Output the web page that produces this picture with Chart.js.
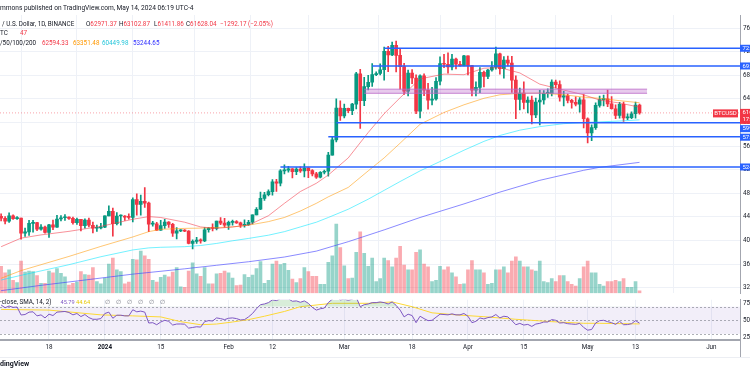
<!DOCTYPE html>
<html><head><meta charset="utf-8">
<script src="https://cdn.jsdelivr.net/npm/chart.js@4.4.1/dist/chart.umd.min.js"></script>
<style>
html,body{margin:0;padding:0;background:#fff;}
body{width:750px;height:375px;overflow:hidden;position:relative;font-family:Roboto,"Liberation Sans",sans-serif;color:#131722;}
canvas{position:absolute;left:0;}
#cMain{top:0;}
#cRsi{top:293px;}
.t{position:absolute;white-space:nowrap;font-size:6.3px;line-height:8px;}
.r{color:#F23645}
.ln{position:absolute;}
</style></head><body>
<canvas id="cMain" width="750" height="300"></canvas>
<canvas id="cRsi" width="750" height="64"></canvas>

<div class="t" style="left:0;top:4px;font-size:6.6px">mmons published on TradingView.com, May 14, 2024 06:19 UTC-4</div>
<div class="t" style="left:2px;top:19.5px">/ U.S. Dollar, 1D, BINANCE</div>
<div class="t" style="left:86px;top:19.5px">O<span class="r">62971.37</span></div>
<div class="t" style="left:119px;top:19.5px">H<span class="r">63102.87</span></div>
<div class="t" style="left:154px;top:19.5px">L<span class="r">61411.86</span></div>
<div class="t" style="left:186px;top:19.5px">C<span class="r">61628.04</span></div>
<div class="t r" style="left:220px;top:19.5px">−1292.17 (−2.05%)</div>
<div class="t" style="left:0;top:29px">TC</div>
<div class="t r" style="left:20px;top:29px">47</div>
<div class="t" style="left:0;top:38.7px">/50/100/200</div>
<div class="t" style="left:42px;top:38.7px;color:#F23645">62594.33</div>
<div class="t" style="left:73px;top:38.7px;color:#FF9800">63351.48</div>
<div class="t" style="left:102px;top:38.7px;color:#26C6DA">60449.98</div>
<div class="t" style="left:133px;top:38.7px;color:#3030FF">53244.65</div>

<div class="t" style="left:0;top:297.5px">-close, SMA, 14, 2)</div>
<div class="t" style="left:60.5px;top:297.5px;color:#7E57C2;font-size:5.6px">45.79</div>
<div class="t" style="left:76px;top:297.5px;color:#E6C800;font-size:5.6px">44.64</div>
<div class="t" style="left:105px;top:297.5px;color:#787b86">∅</div>
<div class="t" style="left:116px;top:297.5px;color:#787b86">∅</div>
<div class="t" style="left:127px;top:297.5px;color:#787b86">∅</div>
<div class="t" style="left:138px;top:297.5px;color:#787b86">∅</div>
<div class="t" style="left:149px;top:297.5px;color:#787b86">∅</div>
<div class="t" style="left:160px;top:297.5px;color:#787b86">∅</div>

<div class="t" style="left:0;top:360px;font-size:7px;font-weight:bold">dingView</div>
<div class="ln" style="left:740px;top:340px;width:1px;height:17px;background:#a3a6af"></div>
<div class="ln" style="left:0;top:357px;width:750px;height:1px;background:#eceef3"></div>

<script>
// ---- DATA ----
const startDate = '2023-12-06'; // candle i = startDate + i days
const open = [44080,43770,43290,44170,43720,43790,41240,41450,42900,43020,
41940,42260,41370,42660,42270,43650,43860,43990,43740,43020,
43580,42520,43440,42580,42070,42140,42280,44180,44950,42850,
44150,44160,43970,43930,46950,46110,46630,46340,42780,42840,
41730,42510,43140,42740,41260,41620,41660,41580,39510,39850,
40080,39930,41820,42120,42030,43300,42950,42580,43080,43190,
42990,42580,42700,43090,44340,45290,47130,47750,48290,49960,
49700,51800,51910,52130,51660,52120,51780,52260,51850,51300,
50730,51570,51730,54480,57050,62430,61130,62390,61990,63110,
68250,63720,66070,66820,68120,68310,68940,72080,71440,73080,
71380,69480,65290,68390,67550,61910,67910,65490,63780,63980,
66990,69980,69870,69440,70750,69870,69640,71280,69640,65460,
65950,68490,67820,68900,69360,71620,69140,70590,70060,67190,
63920,64980,63410,63790,61290,63470,63810,64940,64940,66840,
66410,64290,64500,63760,63420,63110,63840,60640,58250,59120,
62890,63890,64030,63160,62330,61190,63070,60790,60820,61480,
62971];
const high = [44500,44050,44700,44370,44040,43800,42100,43430,43400,43090,
42700,42430,42750,43480,44280,44240,44400,44020,43950,43810,
43600,43690,43800,43120,42600,42900,44180,45880,45500,44730,
44340,44230,44500,47250,47890,47700,48970,46500,43260,43070,
43400,43580,43200,42930,42200,41870,41870,41690,40130,40550,
40300,42200,42200,42840,43300,43880,43750,43290,43480,43380,
43120,43490,43400,44370,45600,48200,48170,48590,50330,50370,
52040,52820,52570,52200,52370,52480,52980,52370,52030,51550,
51680,51950,54940,57580,64000,63680,63110,62430,63230,68500,
69000,67640,67990,69980,68590,69940,72800,72900,73650,73780,
72420,70040,68900,68960,68100,68100,68230,66650,65980,67620,
71150,71560,71800,71540,70920,70360,71370,71290,69690,66900,
69290,68720,69000,70330,72800,71760,71170,71260,71230,67930,
65840,66900,64360,64490,64130,65450,65420,65700,67230,67200,
67070,65300,64800,63920,64370,64230,64730,60780,59600,63320,
64490,64650,65500,64400,62990,63420,63470,61490,61820,63450,
63103];
const low = [43330,42820,43080,43580,43560,40220,40680,40870,41420,41660,
41730,41250,40530,41820,42220,43300,43400,43580,42760,42720,
41640,42100,42310,41300,41520,41970,42170,44150,40750,42630,
42600,43400,43620,43170,44300,44300,45600,41500,42440,41720,
41720,42050,42200,40680,40280,41500,41500,39430,38560,39490,
39550,39820,41400,41620,41800,42680,42280,41880,42580,42880,
42220,42260,42570,42790,44330,45240,46800,47560,47700,48300,
49260,51300,51600,50620,51160,51520,50770,50630,50930,50520,
50590,51280,50900,54450,56690,60360,60770,61660,61320,62300,
59010,62850,65540,66120,67950,68080,67190,68620,71330,68560,
65630,64780,64500,66600,61500,60760,64530,62260,63000,63800,
66390,69280,68360,68920,69080,69560,69570,68060,64500,64490,
65060,66010,67440,68700,69040,68210,67520,69570,65090,60660,
62130,62300,61630,59770,60800,59600,63110,64250,64500,65860,
63600,62790,63300,62420,62800,61770,59100,56550,56940,58810,
62580,62820,62700,62280,60630,60750,60190,60490,60630,60750,
61412];
const close = [43770,43290,44170,43720,43790,41240,41450,42900,43020,41940,
42260,41370,42660,42270,43650,43860,43990,43740,43020,43580,
42520,43440,42580,42070,42140,42280,44180,44950,42850,44150,
44160,43970,43930,46950,46110,46630,46340,42780,42840,41730,
42510,43140,42740,41260,41620,41660,41580,39510,39850,40080,
39930,41820,42120,42030,43300,42950,42580,43080,43190,42990,
42580,42700,43090,44340,45290,47130,47750,48290,49960,49700,
51800,51910,52130,51660,52120,51780,52260,51850,51300,50730,
51570,51730,54480,57050,62430,61130,62390,61990,63110,68250,
63720,66070,66820,68120,68310,68940,72080,71440,73080,71380,
69480,65290,68390,67550,61910,67910,65490,63780,63980,66990,
69980,69870,69440,70750,69870,69640,71280,69640,65460,65950,
68490,67820,68900,69360,71620,69140,70590,70060,67190,63920,
64980,63410,63790,61290,63470,63810,64940,64940,66840,66410,
64290,64500,63760,63420,63110,63840,60640,58250,59120,62890,
63890,64030,63160,62330,61190,63070,60790,60820,61480,62970,
61628];
// volume, thousand BTC
const volume = [46,35,40,22,18,55,36,38,37,30,
17,17,38,35,42,34,28,14,17,19,
37,32,31,44,20,16,26,50,60,40,
37,16,19,58,57,72,64,58,22,19,
27,31,28,36,44,11,10,38,52,33,
29,44,16,16,33,34,38,35,26,13,
14,32,27,31,42,54,17,22,50,55,
49,51,39,24,18,25,44,37,29,29,
15,15,53,64,118,78,47,25,26,70,
105,68,46,60,20,25,60,56,45,60,
80,48,40,40,70,74,50,45,20,22,
46,40,45,35,28,15,16,40,56,40,
40,35,15,17,40,40,45,35,55,62,
55,45,45,40,38,55,20,18,25,20,
30,30,20,15,12,25,45,55,35,35,
15,12,20,20,22,20,25,10,10,20,
4];
// moving averages at sample days
const maDays = [0,5,10,17,25,33,37,40,46,50,54,58,62,67,71,75,79,82,87,92,96,100,105,111,116,121,125,130,135,141,146,150,155,160];
const ma20  = [38950,40400,40950,41550,42400,43600,44050,43900,43100,42300,42050,42300,42600,44200,46300,48300,49700,51100,54000,58300,61500,64200,67400,68200,68100,69200,69300,68400,66500,65500,64700,63800,63300,62594];
const ma50  = [33600,34900,35900,37300,39000,40600,41500,41900,42050,42100,42200,42300,42600,43200,43900,45000,46300,47400,49000,51800,54000,56500,59700,61700,63000,64100,64700,64950,65000,64700,64300,64100,63700,63351];
const ma100 = [33300,34100,34850,35900,37250,38400,38750,38850,38950,39150,39500,39950,40350,40900,41500,42300,43100,43900,45300,47000,48500,50000,51800,53700,55300,56800,57800,58700,59300,59800,60000,60100,60250,60450];
const ma200Days = [0,10,21,33,46,54,62,71,79,87,96,105,116,125,135,146,150,160];
const ma200 = [31500,32400,33300,34300,35200,35800,36400,37200,38200,39800,41800,43900,46200,48200,50200,51900,52400,53245];
// drawn levels
const levelVals = [72580,69580,59970,57590,52460];
const levelFrom = [96,93,84,82,70];
const zoneLo = 64950, zoneHi = 65650, zoneFrom = 91, zoneTo = 161.9;
const lastPrice = 61628.04;
// RSI(14) daily, and its SMA read at sample days
const rsi = [72.5,68.5,71,69,69.5,57.8,58.5,62,62.5,56.5,
58,53.5,59,57,62,62.5,63,61.5,58,60,
55.5,58.5,54,51.5,51.5,52.5,60,62,53,57.5,
57.5,56.5,56.5,65.5,62.5,63.5,62,46,46.5,43.5,
47.5,50,48.5,43,44.5,44.6,44.3,38.5,39.5,40.5,
40,48,49.5,49,53.5,52.5,51,53,53.5,52.5,
50.5,51,55,60,67,73,74,76,80,79,
81.5,81.5,81.5,78,78.5,76.5,78.5,75,69,65,
67,68,76,81,85,80,81,79.5,81,84,
70,73,74,76,76,77,76,74,77,72,
65,55,59,57,46.5,56,52.5,49.5,50,54.5,
59,58.5,58,59.5,58,58,60,56,46.5,48.5,
53.5,52,54,55,58.5,53.5,56,55,49.5,43.5,
45.5,43,44,41,44.5,45.5,47.5,47.5,51,50,
46,46.5,45,44.5,44,45.5,39.5,35.5,36.5,46,
49.5,50,48,46.5,44,48.5,43.5,43.7,45,49.5,
45.79];
const rsiSmaDays = [0,12,25,33,40,45,50,54,58,62,66,71,75,83,92,98,103,108,114,121,129,138,146,150,160];
const rsiSma = [66,65,58,56.5,55,48,43.5,44.5,47.5,51,56,63,70,75,75,77,70,61,58,55.3,51.5,48,45.6,45.6,44.64];
// axis ticks
const tickDays = [12,26,40,57,68,86,103,117,131,147,159,178];
const tickLabels = ['18','2024','15','Feb','12','Mar','18','Apr','15','May','13','Jun'];
const priceTicks = [32000,36000,40000,44000,48000,52000,56000,60000,64000,68000,72000,76000];
const rsiTicks = [25,50,75];

// ---- CHART ----
Chart.defaults.font.family = 'Roboto, "Liberation Sans", sans-serif';
const XMIN = -0.28, XMAX = 185.18;
const UP = '#089981', DN = '#F23645';
const idx = close.map((_, i) => i);
const up = i => close[i] >= open[i];
const GRID = '#eef1f7';
const xTicksFn = s => { s.ticks = tickDays.map(v => ({value: v})); };
// page-pixel calibration of the panes
const PRICE_REF = {p:32000, y:287.7, k:0.0059};   // y = 287.7 - (p-32000)*k
const RSI_REF = {v:50, y:27.3, k:0.68};           // within RSI canvas
const VOL_K = 0.585;                               // px per thousand BTC

const lineDs = (data, color, order, extra) => Object.assign({
  type: 'line', data, borderColor: color, borderWidth: 1, pointRadius: 0,
  tension: 0, fill: false, order, yAxisID: 'y'
}, extra || {});

const datasets = [
  { type:'bar', yAxisID:'yv', order: 10, grouped:false, barThickness:3, borderWidth:0,
    data: idx.map(i => ({x:i, y:volume[i]})),
    backgroundColor: idx.map(i => up(i) ? 'rgba(8,153,129,0.42)' : 'rgba(242,54,69,0.42)') },
  { type:'bar', yAxisID:'y', order: 6, grouped:false, barThickness:1, borderWidth:0,
    data: idx.map(i => ({x:i, y:[low[i], high[i]]})),
    backgroundColor: idx.map(i => up(i) ? UP : DN) },
  { type:'bar', yAxisID:'y', order: 5, grouped:false, barThickness:3, borderWidth:0, minBarLength:1,
    data: idx.map(i => ({x:i, y:[open[i], close[i]]})),
    backgroundColor: idx.map(i => up(i) ? UP : DN) },
  lineDs(maDays.map((d,k)=>({x:d,y:ma20[k]})), 'rgba(242,54,69,0.55)', 3),
  lineDs(maDays.map((d,k)=>({x:d,y:ma50[k]})), 'rgba(255,152,0,0.55)', 3),
  lineDs(maDays.map((d,k)=>({x:d,y:ma100[k]})), 'rgba(0,229,255,0.55)', 3),
  lineDs(ma200Days.map((d,k)=>({x:d,y:ma200[k]})), 'rgba(60,60,255,0.6)', 3),
  lineDs([{x:XMIN,y:lastPrice},{x:XMAX,y:lastPrice}], 'rgba(242,54,69,0.45)', 2, {borderDash:[1,2]}),
  lineDs([{x:zoneFrom,y:zoneLo},{x:zoneTo,y:zoneLo}], 'rgba(186,104,200,0.8)', 1),
  lineDs([{x:zoneFrom,y:zoneHi},{x:zoneTo,y:zoneHi}], 'rgba(186,104,200,0.8)', 1,
    {fill:'-1', backgroundColor:'rgba(186,104,200,0.35)'}),
];
levelVals.forEach((v,k) => datasets.push(
  lineDs([{x:levelFrom[k],y:v},{x:XMAX,y:v}], '#2962FF', 1, {borderWidth:1.6})));

const labelPlugin = {
  id:'labels',
  afterDraw(chart){
    const c = chart.ctx, ys = chart.scales.y;
    c.save();
    c.font = '6px Roboto, "Liberation Sans", sans-serif';
    c.textBaseline = 'middle';
    const shift = [0,0,6,0.5,0];
    levelVals.forEach((v,k)=>{
      const y = ys.getPixelForValue(v) + shift[k];
      c.fillStyle = '#2962FF'; c.fillRect(740, y-3.5, 12, 7);
      c.fillStyle = '#fff'; c.textAlign='left'; c.fillText(v.toFixed(2), 742.5, y+0.3);
    });
    const py = ys.getPixelForValue(lastPrice);
    c.fillStyle = '#F23645'; c.fillRect(740, py-4, 12, 15);
    c.fillStyle = '#fff'; c.fillText(lastPrice.toFixed(2), 742.5, py-0.2); c.fillText('17:40:44', 742.5, py+6.6);
    c.fillStyle = '#F23645'; c.fillRect(713, py-3.5, 25, 8);
    c.fillStyle = '#fff'; c.textAlign='center'; c.fillText('BTCUSD', 725.5, py+0.6);
    c.restore();
  }
};

const main = new Chart(document.getElementById('cMain'), {
  type:'bar',
  data:{datasets},
  options:{
    animation:false, responsive:false, devicePixelRatio:1,
    layout:{autoPadding:false, padding:{top:15,left:0,right:0,bottom:0}},
    plugins:{legend:{display:false}, tooltip:{enabled:false}},
    scales:{
      x:{type:'linear', min:XMIN, max:XMAX, offset:false,
         grid:{color:GRID, drawTicks:false}, border:{display:false},
         ticks:{display:false}, afterBuildTicks:xTicksFn, afterFit:s=>{s.height=0;}},
      y:{type:'linear', position:'right', min:31102, max:78220,
         grid:{color:GRID, drawTicks:false}, border:{display:true, color:'#a3a6af'},
         ticks:{color:'#131722', font:{size:6.3}, padding:3, callback:v=>Number(v).toFixed(2)},
         afterBuildTicks:s=>{s.ticks = priceTicks.map(v=>({value:v}));}, afterFit:s=>{s.width=10;}},
      yv:{type:'linear', display:false, min:0, max:475}
    }
  },
  plugins:[labelPlugin]
});
// calibrate the value ranges to the actual plot area
(function(){
  const a = main.chartArea;
  const o = main.options.scales;
  o.y.max = PRICE_REF.p + (PRICE_REF.y - a.top) / PRICE_REF.k;
  o.y.min = PRICE_REF.p + (PRICE_REF.y - a.bottom) / PRICE_REF.k;
  o.yv.max = (a.bottom - a.top) / VOL_K;
  main.update('none');
})();

const bandPlugin = {
  id:'band',
  beforeDatasetsDraw(chart){
    const c = chart.ctx, ys = chart.scales.y, a = chart.chartArea;
    const y70 = ys.getPixelForValue(70), y30 = ys.getPixelForValue(30), y50 = ys.getPixelForValue(50);
    c.save();
    c.fillStyle = 'rgba(126,87,194,0.1)';
    c.fillRect(a.left, y70, a.right-a.left, y30-y70);
    c.strokeStyle = 'rgba(120,123,134,0.6)'; c.lineWidth = 1; c.setLineDash([2,2]);
    [y70,y50,y30].forEach(y=>{ c.beginPath(); c.moveTo(a.left, Math.round(y)+0.5); c.lineTo(a.right, Math.round(y)+0.5); c.stroke(); });
    c.restore();
  }
};

const rsiChart = new Chart(document.getElementById('cRsi'), {
  type:'line',
  data:{datasets:[
    {data: idx.map(i=>({x:i,y:rsi[i]})), borderColor:'#7E57C2', borderWidth:1, pointRadius:0, tension:0,
     fill:{target:{value:70}, above:'rgba(76,175,80,0.22)', below:'rgba(0,0,0,0)'}},
    {data: rsiSmaDays.map((d,k)=>({x:d,y:rsiSma[k]})), borderColor:'#FDD835', borderWidth:1, pointRadius:0, tension:0, fill:false}
  ]},
  options:{
    animation:false, responsive:false, devicePixelRatio:1,
    layout:{autoPadding:false, padding:0},
    plugins:{legend:{display:false}, tooltip:{enabled:false}},
    scales:{
      x:{type:'linear', min:XMIN, max:XMAX, offset:false,
         grid:{color:GRID, drawTicks:false}, border:{display:true, color:'#a3a6af', width:2},
         ticks:{color:'#131722', padding:4, maxRotation:0, autoSkip:false,
           font:ctx=>({size:6.3, weight: (ctx.tick && ctx.tick.value===26) ? 'bold' : 'normal'}),
           callback:(v,i)=>tickLabels[i]},
         afterBuildTicks:xTicksFn, afterFit:s=>{s.height=17;}},
      y:{type:'linear', position:'right', min:21.03, max:90.15,
         grid:{display:false, drawTicks:false}, border:{display:true, color:'#a3a6af'},
         ticks:{color:'#131722', font:{size:6.3}, padding:3, callback:v=>Number(v).toFixed(2)},
         afterBuildTicks:s=>{s.ticks = rsiTicks.map(v=>({value:v}));}, afterFit:s=>{s.width=10;}}
    }
  },
  plugins:[bandPlugin]
});
(function(){
  const a = rsiChart.chartArea, o = rsiChart.options.scales.y;
  o.max = RSI_REF.v + (RSI_REF.y - a.top) / RSI_REF.k;
  o.min = RSI_REF.v + (RSI_REF.y - a.bottom) / RSI_REF.k;
  rsiChart.update('none');
})();
</script>
</body></html>
